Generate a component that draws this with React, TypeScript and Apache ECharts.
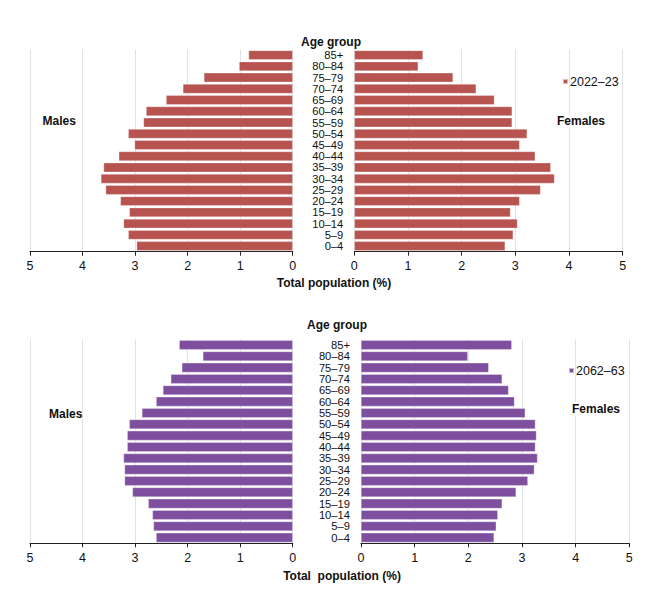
import React, { useEffect, useRef } from "react";
import * as echarts from "echarts";

const ageGroups = ["0–4", "5–9", "10–14", "15–19", "20–24", "25–29", "30–34", "35–39", "40–44", "45–49", "50–54", "55–59", "60–64", "65–69", "70–74", "75–79", "80–84", "85+"];

const males2022 = [2.97, 3.13, 3.22, 3.11, 3.28, 3.56, 3.65, 3.60, 3.31, 3.01, 3.13, 2.84, 2.79, 2.41, 2.09, 1.69, 1.02, 0.84];
const females2022 = [2.81, 2.96, 3.04, 2.91, 3.08, 3.47, 3.73, 3.66, 3.37, 3.08, 3.22, 2.94, 2.94, 2.61, 2.27, 1.84, 1.19, 1.28];
const males2062 = [2.60, 2.65, 2.67, 2.75, 3.05, 3.20, 3.20, 3.22, 3.15, 3.15, 3.11, 2.87, 2.60, 2.47, 2.32, 2.11, 1.71, 2.16];
const females2062 = [2.48, 2.52, 2.55, 2.63, 2.89, 3.11, 3.23, 3.29, 3.25, 3.27, 3.25, 3.06, 2.86, 2.75, 2.63, 2.38, 1.99, 2.81];

const label1 = "2022–23";
const label2 = "2062–63";
const color1 = "#B85450";
const color2 = "#7E4F9E";

const FONT = "'Liberation Sans', Arial, Helvetica, sans-serif";

export default function App() {
  const ref = useRef<HTMLDivElement>(null);
  useEffect(() => {
    if (!ref.current) return;
    const chart = echarts.init(ref.current, undefined, { renderer: "svg" });

    const xAxisBase = (gridIndex: number, inverse: boolean) => ({
      type: "value",
      gridIndex,
      min: 0,
      max: 5,
      interval: 1,
      inverse,
      axisLine: { show: true, lineStyle: { color: "#222", width: 1 } },
      axisTick: { show: true, length: 4, lineStyle: { color: "#222" } },
      axisLabel: { color: "#111", fontSize: 12.5, margin: 8, fontFamily: FONT },
      splitLine: { show: true, lineStyle: { color: "#e2e2e2", width: 1 } },
    });

    const yAxisBase = (gridIndex: number, showLabels: boolean) => ({
      type: "category",
      gridIndex,
      data: ageGroups,
      axisLine: { show: false },
      axisTick: { show: false },
      axisLabel: {
        show: showLabels,
        color: "#111",
        fontSize: 11.2,
        lineHeight: 10,
        margin: 11,
        align: "right",
        fontFamily: FONT,
        interval: 0,
      },
      splitLine: { show: false },
    });

    const barSeries = (name: string, data: number[], idx: number, color: string) => ({
      type: "bar",
      name,
      xAxisIndex: idx,
      yAxisIndex: idx,
      data,
      barCategoryGap: "16%",
      itemStyle: { color, borderColor: "rgba(255,255,255,0.6)", borderWidth: 0.5 },
      emphasis: { disabled: true },
    });

    const txt = (text: string, x: number, y: number, align: string, bg = false) => ({
      type: "text",
      x,
      y,
      z: 10,
      style: {
        text,
        fill: "#111",
        font: `bold 12px ${FONT}`,
        textAlign: align,
        textVerticalAlign: "middle",
        backgroundColor: bg ? "#fff" : undefined,
        padding: bg ? [1, 1, 1, 1] : 0,
      },
    });

    const legendBase = (name: string, left: number, top: number) => ({
      data: [name],
      left,
      top,
      itemWidth: 5,
      itemHeight: 5,
      itemGap: 2,
      icon: "rect",
      textStyle: { color: "#111", fontSize: 12.5, fontFamily: FONT, padding: [0, 0, 0, -3] },
      selectedMode: false,
      padding: 0,
    });

    chart.setOption({
      animation: false,
      backgroundColor: "#fff",
      grid: [
        { left: 30, width: 262.7, top: 49.5, height: 202.2 },
        { left: 354.3, width: 268.4, top: 49.5, height: 202.2 },
        { left: 30, width: 262.7, top: 339.3, height: 204 },
        { left: 361, width: 268.3, top: 339.3, height: 204 },
      ],
      xAxis: [xAxisBase(0, true), xAxisBase(1, false), xAxisBase(2, true), xAxisBase(3, false)],
      yAxis: [yAxisBase(0, false), yAxisBase(1, true), yAxisBase(2, false), yAxisBase(3, true)],
      legend: [legendBase(label1, 562, 75), legendBase(label2, 568, 364)],
      series: [
        barSeries(label1, males2022, 0, color1),
        barSeries(label1, females2022, 1, color1),
        barSeries(label2, males2062, 2, color2),
        barSeries(label2, females2062, 3, color2),
      ],
      graphic: [
        txt("Age group", 331, 42, "center"),
        txt("Age group", 337, 325, "center"),
        txt("Total population (%)", 334, 283, "center"),
        txt("Total  population (%)", 342, 576, "center"),
        txt("Males", 42.5, 121, "left"),
        txt("Males", 49, 414, "left"),
        txt("Females", 556, 121, "left", true),
        txt("Females", 571, 409, "left", true),
      ],
    });

    return () => chart.dispose();
  }, []);

  return (
    <div
      ref={ref}
      style={{ position: "absolute", left: 0, top: 0, width: 665, height: 592 }}
    />
  );
}
